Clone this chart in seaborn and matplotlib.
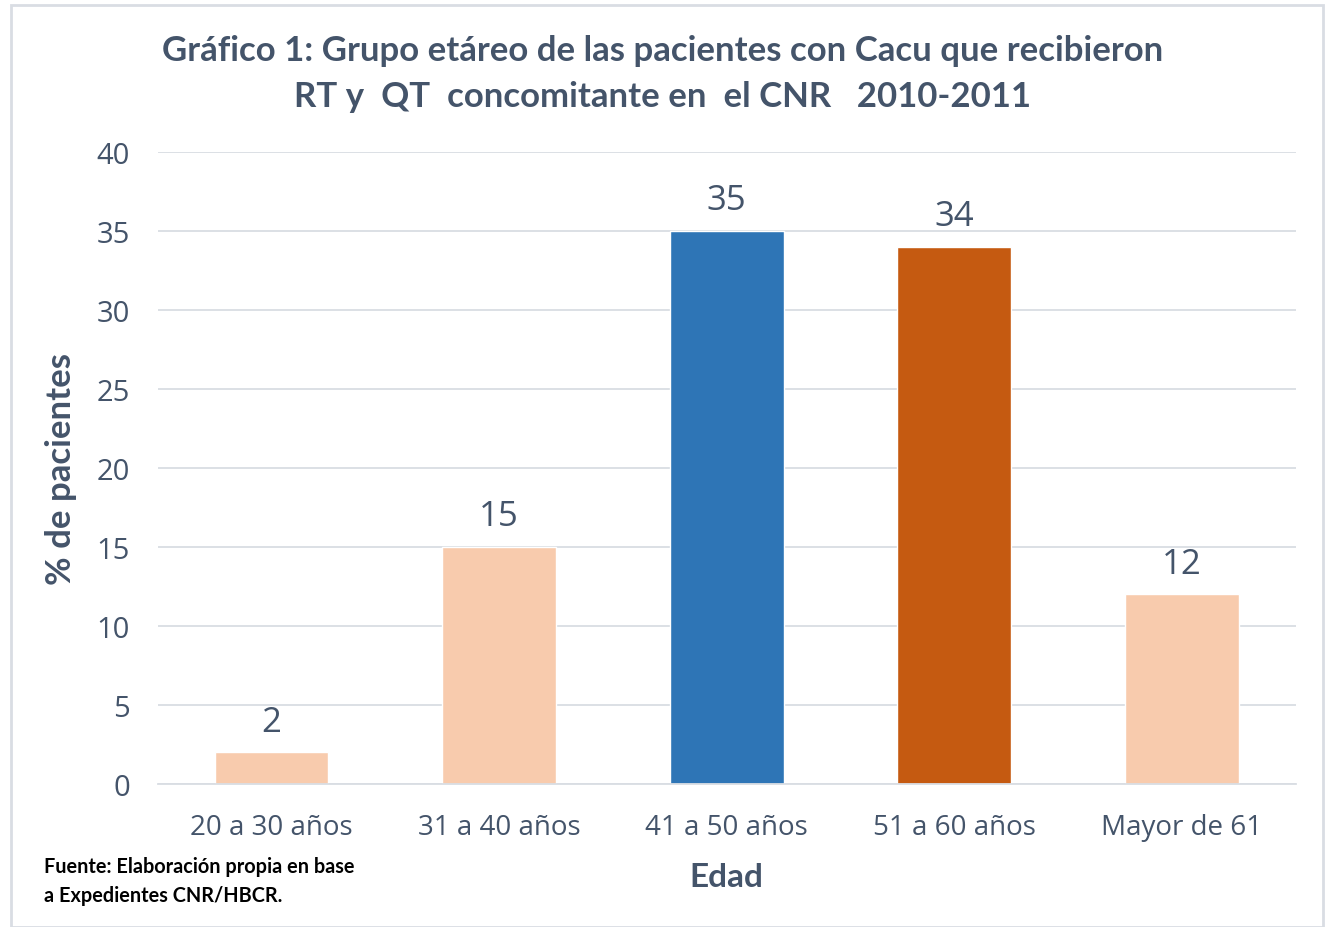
import matplotlib
matplotlib.use("Agg")
import matplotlib.pyplot as plt
from matplotlib.patches import Rectangle
import seaborn as sns
import pandas as pd

# ---- Data ----
grupos = ["20 a 30 años", "31 a 40 años", "41 a 50 años", "51 a 60 años", "Mayor de 61"]
porcentajes = [2, 15, 35, 34, 12]
colores = ["#F8CBAD", "#F8CBAD", "#2E75B6", "#C55A11", "#F8CBAD"]

TXT = "#44546A"

sns.set_style("white")
plt.rcParams["font.family"] = ["Lato", "DejaVu Sans"]

fig = plt.figure(figsize=(13.26, 9.28), dpi=100)
ax = fig.add_axes([0.119, 0.154, 0.858, 0.681])

df = pd.DataFrame({"Edad": grupos, "Pct": porcentajes})
sns.barplot(data=df, x="Edad", y="Pct", hue="Edad", palette=colores,
            width=0.5, dodge=False, legend=False, ax=ax, saturation=1)

ax.set_ylim(0, 40)
ax.set_yticks(range(0, 41, 5))
ax.grid(axis="y", color="#D9DDE3", linewidth=1.3)
ax.set_axisbelow(True)
for s in ["top", "right", "left"]:
    ax.spines[s].set_visible(False)
ax.spines["bottom"].set_color("#D9DDE3")
ax.spines["bottom"].set_linewidth(1.3)
ax.tick_params(axis="y", length=0, labelsize=21, labelcolor=TXT, pad=20)
ax.tick_params(axis="x", length=0, labelsize=20, labelcolor=TXT, pad=21)
for lbl in ax.get_xticklabels() + ax.get_yticklabels():
    lbl.set_family(["Open Sans", "DejaVu Sans"])

for c in ax.containers:
    ax.bar_label(c, fmt="%g", padding=10, fontsize=25, color=TXT,
                 family=["Open Sans", "DejaVu Sans"])

ax.set_xlabel("Edad", fontsize=24, fontweight="bold", color=TXT, labelpad=15)
ax.set_ylabel("% de pacientes", fontsize=25, fontweight="bold", color=TXT, labelpad=14)

fig.text(0.5, 0.945, "Gráfico 1: Grupo etáreo de las pacientes con Cacu que recibieron",
         ha="center", va="center", fontsize=25, fontweight="bold", color=TXT)
fig.text(0.5, 0.896, "RT y  QT  concomitante en  el CNR   2010-2011",
         ha="center", va="center", fontsize=25, fontweight="bold", color=TXT)

fig.text(0.033, 0.050, "Fuente: Elaboración propia en base\na Expedientes CNR/HBCR.",
         ha="left", va="center", fontsize=14.3, fontweight="bold", color="black",
         linespacing=1.55)

fig.patches.append(Rectangle((0.008, 0.0), 0.99, 0.993, transform=fig.transFigure,
                             fill=False, edgecolor="#D9DDE3", linewidth=2))

fig.savefig("out.png", dpi=100)
plt.close(fig)
